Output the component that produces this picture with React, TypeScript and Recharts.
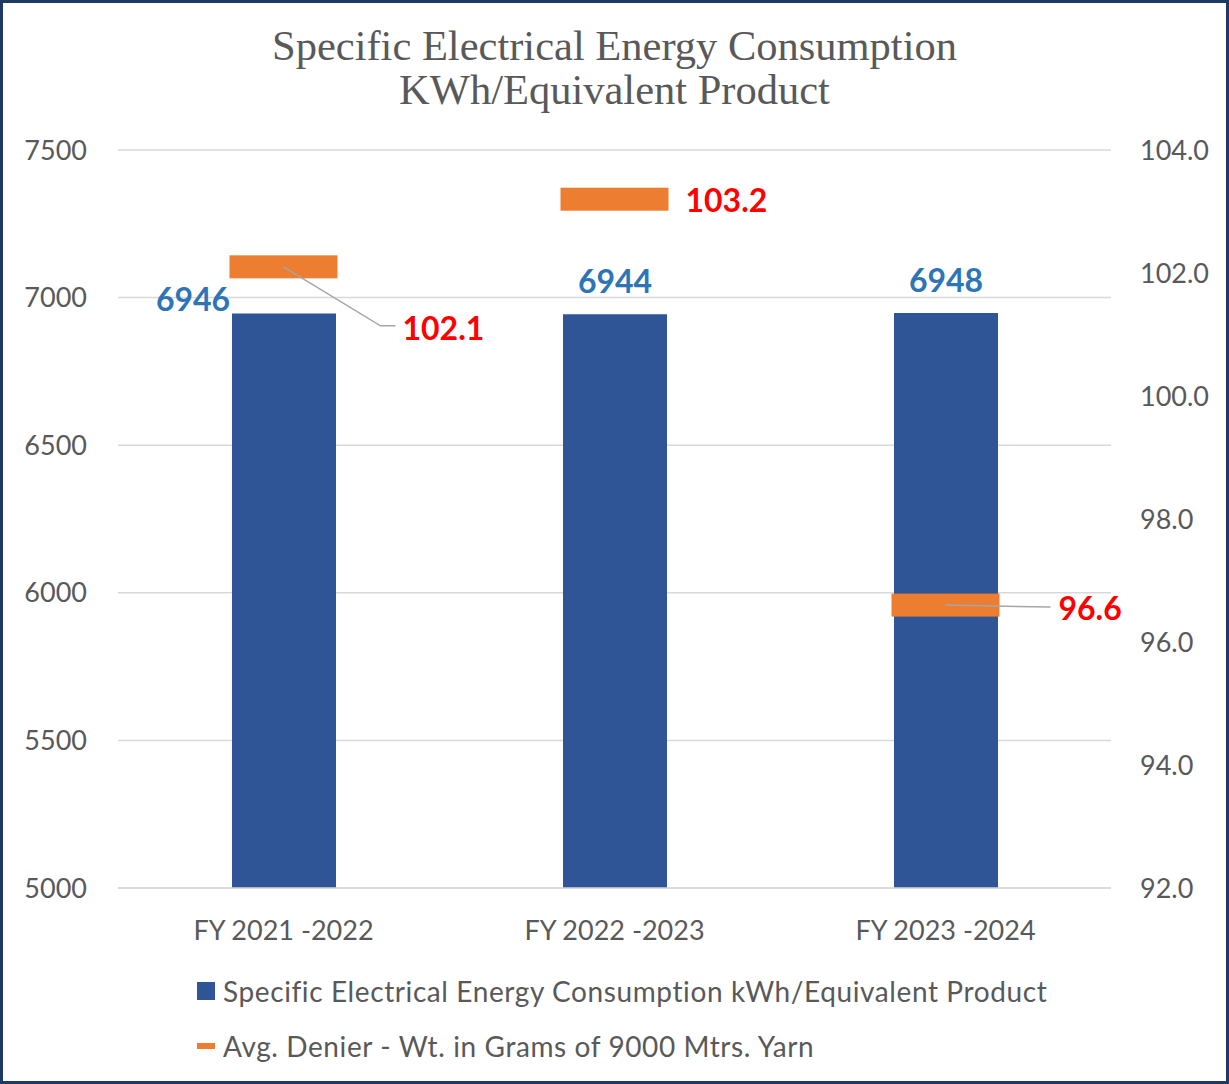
import { ComposedChart, Bar, Line, XAxis, YAxis, CartesianGrid, LabelList } from 'recharts';

const categories = ['FY 2021 -2022', 'FY 2022 -2023', 'FY 2023 -2024'];
const energyValues = [6946, 6944, 6948];
const denierValues = [102.1, 103.2, 96.6];
const leftTicks = [5000, 5500, 6000, 6500, 7000, 7500];
const rightTicks = [92, 94, 96, 98, 100, 102, 104];

const energyName = 'Specific Electrical Energy Consumption kWh/Equivalent Product';
const denierName = 'Avg. Denier - Wt. in Grams of 9000 Mtrs. Yarn';

const data = categories.map((name, i) => ({
  name,
  energy: energyValues[i],
  denier: denierValues[i],
}));

// label placement tweaks, per point
const energyLabelPos = [
  { dx: -91, dy: -3 },
  { dx: 0, dy: -21 },
  { dx: 0, dy: -21 },
];
const denierLabelPos = [
  { dx: 119, dy: 73, leader: [[0, 0], [97, 59], [112, 59]] },
  { dx: 71, dy: 13, leader: null },
  { dx: 113, dy: 15, leader: [[0, 0], [105, 2]] },
];

const font = 'Lato, "Open Sans", sans-serif';
const grey = '#595959';

const DenierMarker = (props: any) => {
  const { cx, cy, index } = props;
  if (cx == null || cy == null) return null;
  return <rect key={`m-${index}`} x={cx - 54} y={cy - 11.5} width={108} height={23} fill="#ED7D31" />;
};

const EnergyLabel = (props: any) => {
  const { x, y, width, value, index } = props;
  const p = energyLabelPos[index];
  return (
    <text
      x={Number(x) + Number(width) / 2 + p.dx}
      y={Number(y) + p.dy}
      textAnchor="middle"
      fill="#2E75B6"
      fontFamily={font}
      fontWeight={700}
      fontSize={32}
    >
      {value}
    </text>
  );
};

const DenierLabel = (props: any) => {
  const { x, y, value, index } = props;
  const p = denierLabelPos[index];
  const cx = Number(x);
  const cy = Number(y);
  return (
    <g>
      {p.leader && (
        <polyline
          points={p.leader.map(([a, b]) => `${cx + a},${cy + b}`).join(' ')}
          fill="none"
          stroke="#A6A6A6"
          strokeWidth={1.5}
        />
      )}
      <text
        x={cx + p.dx}
        y={cy + p.dy}
        textAnchor="start"
        fill="#FF0000"
        fontFamily={font}
        fontWeight={700}
        fontSize={32}
      >
        {Number(value).toFixed(1)}
      </text>
    </g>
  );
};

export default function App() {
  const tickStyle = { fill: grey, fontSize: 27, fontFamily: font };
  return (
    <div style={{ position: 'absolute', left: 0, top: 0, width: 1229, height: 1084, background: '#fff' }}>
      <ComposedChart width={1229} height={1084} data={data} margin={{ top: 150, right: 0, bottom: 0, left: 0 }}>
        <CartesianGrid yAxisId="left" vertical={false} stroke="#D9D9D9" strokeWidth={1.5} />
        <XAxis
          dataKey="name"
          height={196}
          axisLine={{ stroke: '#D9D9D9', strokeWidth: 1.5 }}
          tickLine={false}
          tickMargin={27}
          tick={tickStyle}
        />
        <YAxis
          yAxisId="left"
          orientation="left"
          width={118}
          domain={[5000, 7500]}
          ticks={leftTicks}
          axisLine={false}
          tickLine={false}
          tickMargin={25}
          tick={tickStyle}
        />
        <YAxis
          yAxisId="right"
          orientation="right"
          width={118}
          domain={[92, 104]}
          ticks={rightTicks}
          tickFormatter={(v: number) => v.toFixed(1)}
          axisLine={false}
          tickLine={false}
          tickMargin={23}
          tick={tickStyle}
        />
        <Bar yAxisId="left" dataKey="energy" name={energyName} fill="#2F5597" barSize={104} isAnimationActive={false}>
          <LabelList dataKey="energy" content={EnergyLabel} />
        </Bar>
        <Line
          yAxisId="right"
          dataKey="denier"
          name={denierName}
          stroke="none"
          dot={DenierMarker}
          activeDot={false}
          isAnimationActive={false}
        >
          <LabelList dataKey="denier" content={DenierLabel} />
        </Line>
      </ComposedChart>

      <div
        style={{
          position: 'absolute',
          left: 0,
          top: 24,
          width: 1229,
          textAlign: 'center',
          fontFamily: '"Liberation Serif", serif',
          fontSize: 42.5,
          lineHeight: '44px',
          color: grey,
        }}
      >
        Specific Electrical Energy Consumption
        <br />
        KWh/Equivalent Product
      </div>

      <div
        style={{
          position: 'absolute',
          left: 197,
          top: 972,
          fontFamily: font,
          fontSize: 28,
          letterSpacing: 0.6,
          color: grey,
        }}
      >
        <div style={{ display: 'flex', alignItems: 'center', height: 38 }}>
          <span style={{ width: 18, height: 18, background: '#2F5597', marginRight: 8 }} />
          {energyName}
        </div>
        <div style={{ display: 'flex', alignItems: 'center', height: 38, marginTop: 17 }}>
          <span style={{ width: 18, height: 6, background: '#ED7D31', marginRight: 8 }} />
          {denierName}
        </div>
      </div>

      <div
        style={{
          position: 'absolute',
          left: 0,
          top: 0,
          width: 1229,
          height: 1084,
          boxSizing: 'border-box',
          border: '3px solid #1F3864',
          pointerEvents: 'none',
        }}
      />
    </div>
  );
}
